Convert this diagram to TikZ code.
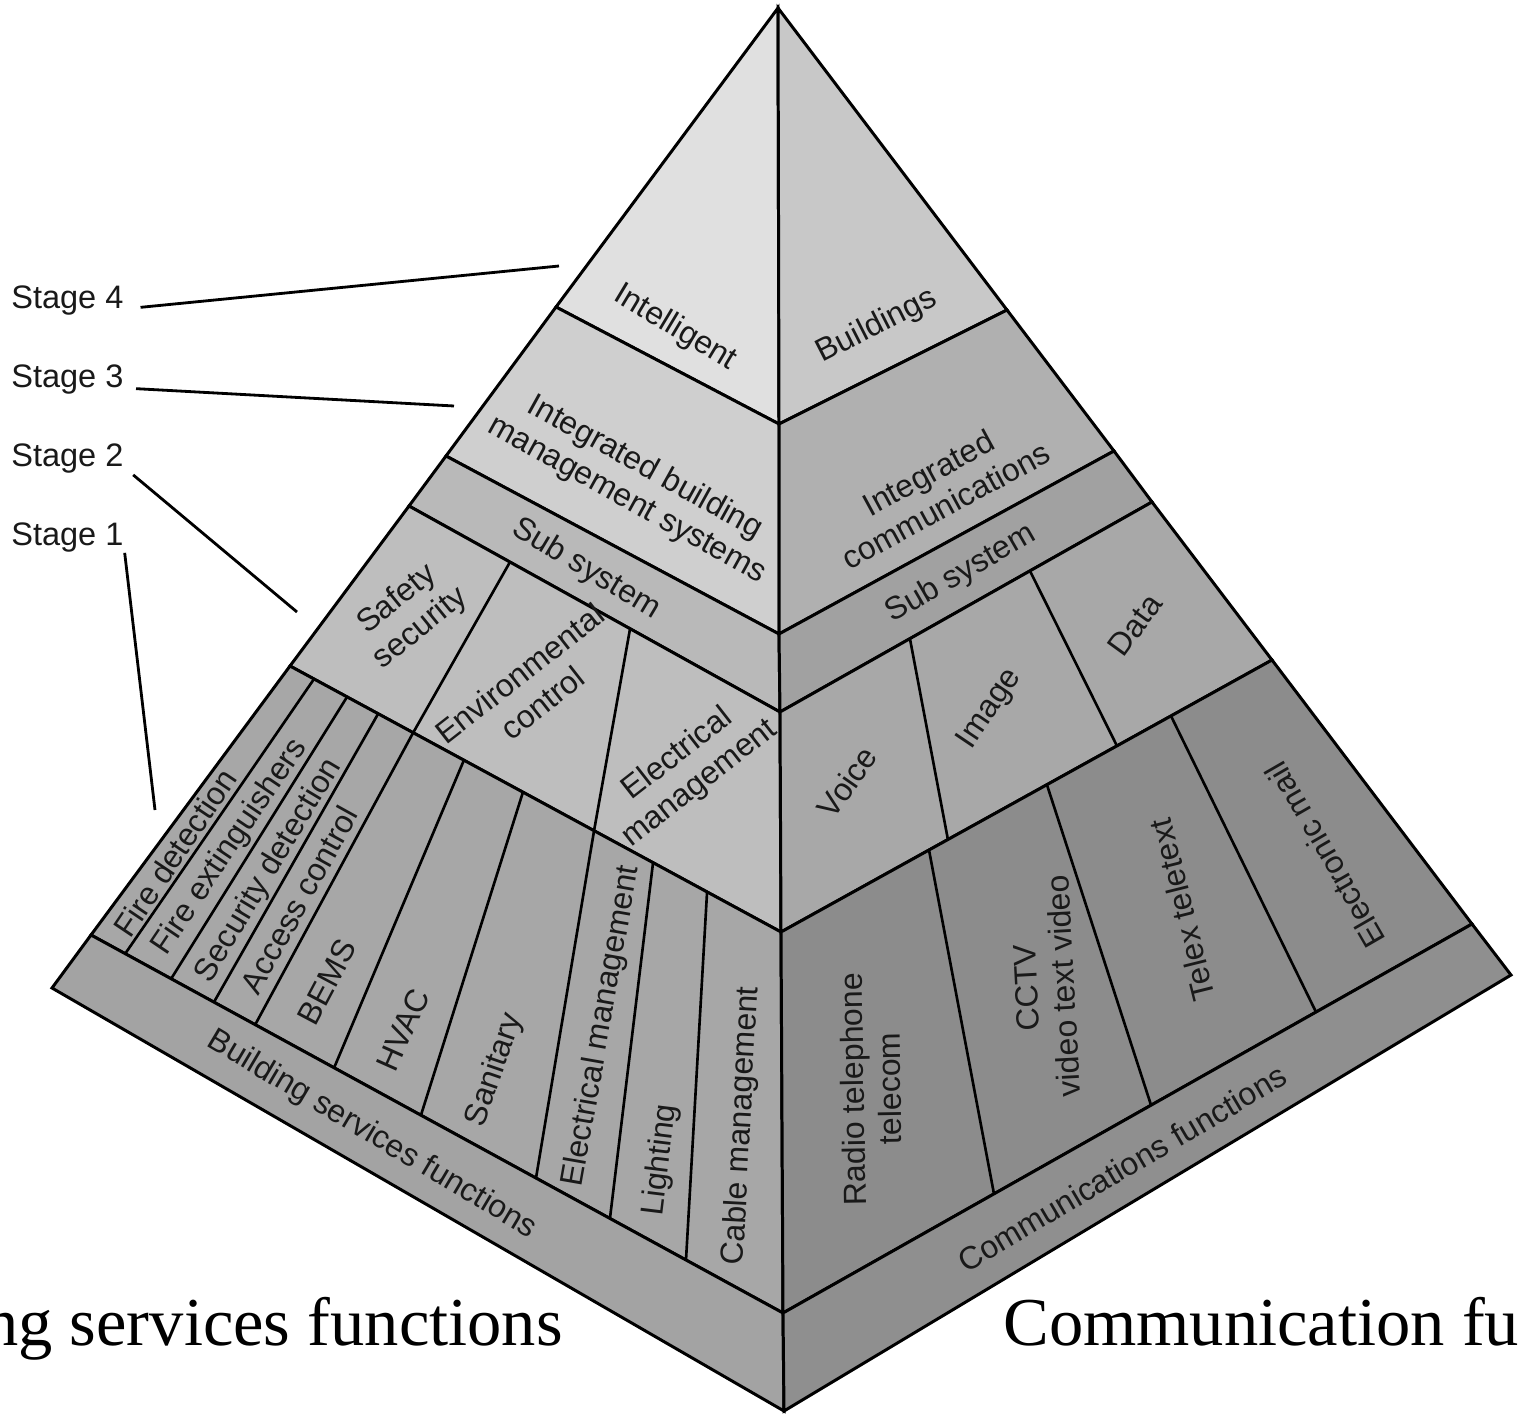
\documentclass[tikz,border=0pt]{standalone}
\usepackage{fontspec}
\setmainfont{Liberation Serif}
\setsansfont{Liberation Sans}
\usetikzlibrary{calc}
\definecolor{sfourL}{gray}{0.88}
\definecolor{sfourR}{gray}{0.785}
\definecolor{sthreeL}{gray}{0.81}
\definecolor{sthreeR}{gray}{0.69}
\definecolor{subL}{gray}{0.725}
\definecolor{subR}{gray}{0.63}
\definecolor{stwoL}{gray}{0.745}
\definecolor{stwoR}{gray}{0.66}
\definecolor{soneL}{gray}{0.655}
\definecolor{soneR}{gray}{0.55}
\definecolor{baseL}{gray}{0.64}
\definecolor{baseR}{gray}{0.56}
\begin{document}
\begin{tikzpicture}[x=0.02cm,y=-0.02cm,
  face/.style={draw=black, line width=1.7pt},
  divider/.style={draw=black, line width=1.5pt},
  stageline/.style={draw=black, line width=1.6pt},
  lbl/.style={font=\sffamily\fontsize{18.2}{21}\selectfont, inner sep=0pt, align=center, text=black!90},
  stagelbl/.style={font=\sffamily\fontsize{18.5}{21}\selectfont, inner sep=0pt, anchor=base west, text=black!90},
  big/.style={font=\rmfamily\fontsize{39}{44}\selectfont, inner sep=0pt}
]
\useasboundingbox (0,0) rectangle (1518,1415);
\clip (0,0) rectangle (1518,1415);

% main corner points
\coordinate (A) at (778,8);
\coordinate (C4) at (779,424);
\coordinate (C3) at (779,634);
\coordinate (Cs) at (780,712);
\coordinate (C2) at (781,932);
\coordinate (C1) at (783,1313);
\coordinate (Cb) at (784,1411);
\coordinate (L4) at (556,307);
\coordinate (L3) at (446,456);
\coordinate (Ls) at (409,506);
\coordinate (L2) at (290,666);
\coordinate (L1) at (91,935);
\coordinate (Lb) at (52,988);
\coordinate (R4) at (1007,310);
\coordinate (R3) at (1114,451);
\coordinate (Rs) at (1152,502);
\coordinate (R2) at (1272,660);
\coordinate (R1) at (1472,924);
\coordinate (Rb) at (1511,975);

% left face bands
\filldraw[face, fill=sfourL] (A) -- (L4) -- (C4) -- cycle;
\filldraw[face, fill=sthreeL] (L4) -- (L3) -- (C3) -- (C4) -- cycle;
\filldraw[face, fill=subL] (L3) -- (Ls) -- (Cs) -- (C3) -- cycle;
\filldraw[face, fill=stwoL] (Ls) -- (L2) -- (C2) -- (Cs) -- cycle;
\filldraw[face, fill=soneL] (L2) -- (L1) -- (C1) -- (C2) -- cycle;
\filldraw[face, fill=baseL] (L1) -- (Lb) -- (Cb) -- (C1) -- cycle;
% right face bands
\filldraw[face, fill=sfourR] (A) -- (C4) -- (R4) -- cycle;
\filldraw[face, fill=sthreeR] (C4) -- (C3) -- (R3) -- (R4) -- cycle;
\filldraw[face, fill=subR] (C3) -- (Cs) -- (Rs) -- (R3) -- cycle;
\filldraw[face, fill=stwoR] (Cs) -- (C2) -- (R2) -- (Rs) -- cycle;
\filldraw[face, fill=soneR] (C2) -- (C1) -- (R1) -- (R2) -- cycle;
\filldraw[face, fill=baseR] (C1) -- (Cb) -- (Rb) -- (R1) -- cycle;

% left stage 1 dividers
\coordinate (t1) at (314,679); \coordinate (b1) at (125,954);
\coordinate (t2) at (347,697); \coordinate (b2) at (171,979);
\coordinate (t3) at (378,714); \coordinate (b3) at (214,1002);
\coordinate (t4) at (413,733); \coordinate (b4) at (255,1025);
\coordinate (t5) at (464,760); \coordinate (b5) at (334,1068);
\coordinate (t6) at (523,792); \coordinate (b6) at (421,1115);
\coordinate (t7) at (594,831); \coordinate (b7) at (536,1178);
\coordinate (t8) at (653,863); \coordinate (b8) at (610,1218);
\coordinate (t9) at (707,893); \coordinate (b9) at (686,1260);
\foreach \i in {1,...,9} \draw[divider] (t\i) -- (b\i);
% left stage 2 dividers
\coordinate (ua) at (510,562);
\coordinate (ub) at (630,629);
\draw[divider] (ua) -- (t4);
\draw[divider] (ub) -- (t7);
% right stage 2 dividers
\coordinate (va) at (910,639); \coordinate (vb) at (948,840);
\coordinate (wa) at (1030,571); \coordinate (wb) at (1117,746);
\draw[divider] (va) -- (vb);
\draw[divider] (wa) -- (wb);
% right stage 1 dividers
\coordinate (ra) at (929,850); \coordinate (rb) at (994,1194);
\coordinate (sa) at (1047,785); \coordinate (sb) at (1151,1105);
\coordinate (qa) at (1171,716); \coordinate (qb) at (1316,1012);
\draw[divider] (ra) -- (rb);
\draw[divider] (sa) -- (sb);
\draw[divider] (qa) -- (qb);

% stage labels and connectors
\node[stagelbl] (s4) at (11,309) {Stage 4};
\node[stagelbl] (s3) at (11,388) {Stage 3};
\node[stagelbl] (s2) at (11,467) {Stage 2};
\node[stagelbl] (s1) at (11,545) {Stage 1};
\coordinate (e4) at (559,266);
\coordinate (e3) at (454,406);
\coordinate (e2) at (297,612);
\coordinate (e1) at (155,810);
\draw[stageline, shorten <=9.6pt] (s4.base east) -- (e4);
\draw[stageline, shorten <=7pt] (s3.base east) -- (e3);
\draw[stageline, shorten <=7pt] (s2.base east) -- (e2);
\draw[stageline, shorten <=4.5pt] (s1.base east) -- (e1);

% left face labels
\node[lbl, rotate=-31] (intel) at (675,328) {Intelligent};
\node[lbl, rotate=-29] (ibms) at (636,484) {Integrated building\\management systems};
\node[lbl, rotate=-31] (subl) at (586,569) {Sub system};
\node[lbl, rotate=39] (safe) at (409,614) {Safety\\security};
\node[lbl, rotate=38] (env) at (531,688) {Environmental\\control};
\node[lbl, rotate=38] (elm) at (689,769) {Electrical\\management};
\node[lbl, rotate=56] (fd) at (175,853) {Fire detection};
\node[lbl, rotate=56] (fe) at (230,847) {Fire extinguishers};
\node[lbl, rotate=59] (sd) at (269,871) {Security detection};
\node[lbl, rotate=61] (ac) at (299,900) {Access control};
\node[lbl, rotate=62] (bems) at (327,982) {BEMS};
\node[lbl, rotate=66] (hvac) at (403,1030) {HVAC};
\node[lbl, rotate=71] (san) at (495,1070) {Sanitary};
\node[lbl, rotate=80] (elm2) at (602,1026) {Electrical management};
\node[lbl, rotate=83] (light) at (661,1160) {Lighting};
\node[lbl, rotate=87] (cable) at (742,1126) {Cable management};
\node[lbl, rotate=-30.7] (bsfl) at (372,1135) {Building services functions};

% right face labels
\node[lbl, rotate=27] (bld) at (877,326) {Buildings};
\node[lbl, rotate=28.5] (icom) at (937,489) {Integrated\\communications};
\node[lbl, rotate=30] (subr) at (961,574) {Sub system};
\node[lbl, rotate=55] (voice) at (847,782) {Voice};
\node[lbl, rotate=56] (image) at (990,709) {Image};
\node[lbl, rotate=54] (data) at (1135,625) {Data};
\node[lbl, rotate=91] (radio) at (871,1089) {Radio telephone\\telecom};
\node[lbl, rotate=93] (cctv) at (1045,987) {CCTV\\video text video};
\node[lbl, rotate=104] (telex) at (1182,910) {Telex teletext};
\node[lbl, rotate=120] (email) at (1325,855) {Electronic mail};
\node[lbl, rotate=30.5] (cfl) at (1122,1168) {Communications functions};

% large captions (cut by the picture's edges)
\node[big, anchor=base east] (bsf) at (563,1345) {Building services functions};
\node[big, anchor=base west] (cf) at (1003,1345) {Communication functions};
\end{tikzpicture}
\end{document}
